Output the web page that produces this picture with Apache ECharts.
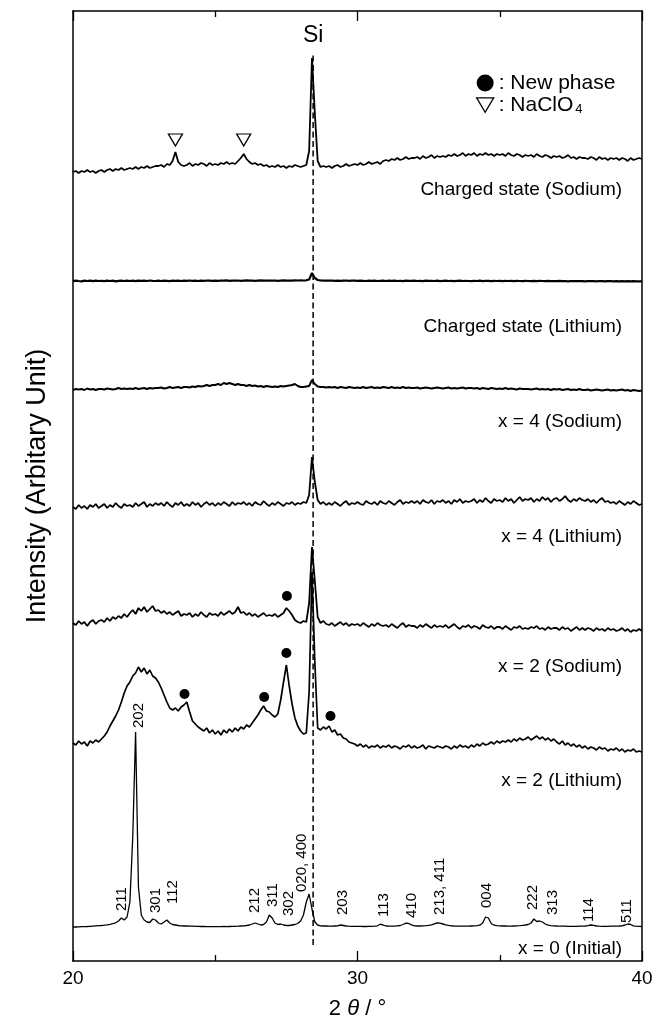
<!DOCTYPE html>
<html>
<head>
<meta charset="utf-8">
<script src="https://cdn.jsdelivr.net/npm/echarts@6/dist/echarts.min.js"></script>
<style>
  html, body { margin: 0; padding: 0; background: #fff; }
  #chart { width: 652px; height: 1020px; }
</style>
</head>
<body>
<div id="chart"></div>
<script>
// XRD patterns, 2θ scan from 20° to 40° in 0.1° steps
const scanStart = 20, scanStep = 0.1, scanPoints = 201;

// Intensities (arbitrary units) above each pattern's own baseline
const chargedNa = [
  3,4,2,4,3,5,3,4,2,4,
  5,3,5,6,4,6,5,7,5,6,
  7,6,8,6,8,7,9,7,8,9,
  9,10,8,11,10,14,23,13,10,9,
  10,12,9,11,10,12,11,9,12,10,
  11,10,12,11,13,11,12,11,14,17,
  21,16,13,11,12,10,11,9,10,8,
  9,8,10,8,9,7,9,8,10,9,
  8,9,10,24,117,62,14,8,9,8,
  9,7,9,10,8,9,11,9,10,11,
  10,12,10,11,13,11,12,13,11,14,
  15,14,16,15,17,15,16,18,16,17,
  17,18,16,19,17,18,20,17,19,18,
  19,18,20,19,21,19,20,22,19,21,
  20,22,19,21,20,22,20,21,19,21,
  20,21,19,22,20,19,21,20,18,20,
  19,20,18,21,19,18,20,19,17,19,
  18,19,17,18,20,17,18,16,18,17,
  17,16,18,17,15,18,16,17,15,17,
  16,17,15,17,16,14,17,15,16,17,
  16
];
const chargedLi = [
  0,0.4,0,-0.3,0.3,0,0.4,-0.2,0.3,0,
  0.2,-0.2,0.4,0,0.3,-0.3,0.2,0.4,0,0.3,
  0,0.3,-0.2,0.4,0.1,0.3,0,0.5,0.2,0,
  0.3,0,0.4,0.2,-0.2,0.3,0.1,0.4,0,0.3,
  0.2,0.5,0.1,0.3,0,0.4,0.2,0.5,0.3,0.1,
  0.4,0.2,0.5,0.3,0.6,0.2,0.4,0.3,0.5,0.2,
  0.4,0.6,0.3,0.5,0.2,0.4,0.6,0.3,0.5,0.4,
  0.3,0.5,0.2,0.4,0.6,0.3,0.5,0.4,0.6,0.5,
  0.6,0.5,0.7,1.5,8,3,1,0.6,0.4,0.5,
  0.3,0.5,0.2,0.4,0.1,0.3,0.5,0.2,0.4,0.3,
  0.1,0.4,0.2,0,0.3,0.1,0.4,0,0.2,0.3,
  0,0.3,0.1,0.4,0,0.2,-0.1,0.3,0.1,0.2,
  0.3,0,0.2,-0.1,0.3,0.1,0.2,0,0.3,-0.1,
  0.1,0.3,0,0.2,-0.2,0.1,0.3,0,0.2,0,
  -0.1,0.2,0,0.3,-0.1,0.1,0.2,-0.2,0.1,0,
  0.2,-0.1,0.1,0,0.2,-0.2,0.1,0,-0.1,0.2,
  0,-0.2,0.1,-0.1,0.2,0,-0.2,0.1,-0.1,0,
  -0.2,0.1,-0.1,0,-0.3,0,-0.1,-0.2,0,-0.1,
  -0.3,0,-0.2,-0.1,-0.3,0,-0.2,-0.4,-0.1,-0.2,
  -0.3,-0.1,-0.4,-0.2,-0.3,-0.1,-0.4,-0.2,-0.3,-0.4,
  -0.3
];
const x4Na = [
  0,1,0.5,1,0,1.5,0.5,1,0,1,
  1,0.5,1.5,1,0.5,1,2,1,1.5,1,
  1.5,1,2,1,1.5,2,1,2,1.5,2,
  2,2.5,1.5,2,3,2,2.5,3,2,3,
  3,2.5,3.5,3,4,3.5,4,5,4,5,
  5,6,5,7,6,7,6,5,6,5,
  5,4,5,4,4.5,3.5,4,3,4,3.5,
  3,3.5,3,4,3.5,4,4.5,5,6,4,
  3,3,3.5,4,10,6,3.5,3,3,2.5,
  3,2.5,3,2,3,2.5,2,3,2.5,2,
  2.5,2,3,2,2.5,3,2,2.5,2,3,
  2.5,2,3,2,2.5,2,3,2,2.5,2,
  2,2.5,1.5,2,2.5,2,1.5,2,2.5,2,
  1.5,2,2.5,1.5,2,1.5,2,2.5,1.5,2,
  2,1.5,2,1,2,1.5,1,2,1.5,1,
  1.5,1,2,1,1.5,1,0.5,1.5,1,1,
  1,0.5,1,1.5,0.5,1,0.5,1,0,1,
  0.5,1,0,0.5,1,0,0.5,0,1,0,
  0,0.5,-0.5,0,0.5,0,-0.5,0,0.5,-0.5,
  0,-0.5,0,0.5,-0.5,0,-1,0,-0.5,-1,
  -0.5
];
const x4Li = [
  1,-1,3,0,2,-1,3,1,4,0,
  2,4,0,3,1,5,2,0,4,2,
  3,1,5,2,4,6,1,4,2,5,
  3,5,2,6,3,1,5,3,6,2,
  4,2,6,3,5,1,4,6,3,5,
  2,5,3,6,4,2,6,3,5,4,
  6,3,5,2,6,4,3,7,4,2,
  5,3,6,4,2,5,4,6,3,5,
  4,6,5,13,51,26,8,4,6,3,
  5,3,6,4,2,5,7,3,5,4,
  6,4,3,7,5,4,6,3,7,5,
  4,7,5,3,6,8,4,6,5,7,
  5,7,4,8,6,5,8,4,7,6,
  8,5,7,4,8,6,9,5,7,6,
  7,9,5,8,6,10,7,5,9,7,
  8,6,10,7,9,5,8,11,7,9,
  8,10,6,9,7,11,8,10,6,9,
  10,7,9,12,8,6,9,7,10,8,
  7,9,6,8,5,8,10,6,7,5,
  6,4,7,5,3,6,4,7,5,3,
  4
];
const x2Na = [
  8,6,10,7,9,5,9,11,7,10,
  11,9,13,10,14,12,15,13,17,14,
  18,21,17,23,20,24,19,22,25,20,
  21,18,20,17,19,16,18,20,15,17,
  16,18,14,17,15,19,16,14,18,16,
  17,15,19,16,18,20,17,19,24,18,
  19,16,18,15,17,14,16,18,15,16,
  15,17,14,16,18,23,20,16,11,9,
  8,10,9,28,84,50,14,8,10,7,
  6,8,5,7,9,6,8,5,7,6,
  7,5,8,6,4,7,5,8,6,5,
  6,4,7,5,3,6,8,4,6,5,
  5,3,6,4,7,5,3,6,4,5,
  4,6,3,5,7,4,2,5,4,6,
  3,5,4,2,6,4,3,5,2,4,
  4,2,5,3,1,4,3,5,2,3,
  2,4,3,5,2,3,1,4,2,3,
  3,1,4,2,3,0,2,4,1,3,
  1,3,2,0,3,1,2,0,3,1,
  2,0,1,3,0,2,-1,1,0,2,
  0
];
const x2Li = [
  9,7,11,8,10,6,11,9,12,10,
  13,16,20,26,31,36,42,50,59,66,
  70,76,79,85,80,84,78,82,76,74,
  70,64,57,50,44,42,44,41,45,47,
  50,40,31,28,25,23,21,24,19,22,
  18,21,17,22,19,23,20,24,21,25,
  23,27,25,29,33,37,42,46,41,40,
  37,35,38,52,70,87,66,48,34,26,
  21,18,19,60,180,90,24,22,25,23,
  26,20,22,17,18,14,13,10,9,8,
  6,8,5,7,4,6,5,7,4,6,
  5,7,4,6,5,3,6,5,7,4,
  6,4,5,7,3,6,5,4,6,5,
  4,6,5,3,6,4,7,5,6,4,
  7,5,8,6,9,7,8,10,8,11,
  9,11,10,12,10,13,11,14,12,13,
  15,12,14,16,13,15,12,14,11,13,
  10,8,11,7,9,6,8,5,7,4,
  6,3,5,4,2,5,3,4,1,3,
  2,4,1,3,0,2,1,3,0,1,
  0
];
const x0 = [
  0,0,0.2,0.3,0.4,0.5,0.7,0.9,1.1,1.3,
  1.5,1.8,2.2,2.7,3.3,4.2,6,9,7,10,
  25,90,195,40,12,7,5,4.5,8,7,
  4,3,5,7,4,2.5,2,1.5,1.2,1,
  1,0.8,0.8,0.6,0.6,0.5,0.5,0.4,0.4,0.4,
  0.4,0.3,0.4,0.5,0.4,0.5,0.6,0.7,0.8,1,
  1.2,1.5,2,3,4,3,2,2.5,5,12,
  9,4,2.5,3,2,1.5,1.5,2,2.5,3.5,
  6,12,25,33,18,5,2,1.2,1,1,
  0.8,0.8,1,1.2,2,1.5,1,0.8,0.7,0.7,
  0.6,0.6,0.5,0.5,0.6,0.6,0.8,1.2,2.8,2,
  1,0.8,0.8,0.9,1.2,1.5,2.5,3.8,3.5,2.2,
  1.2,1,1,1.1,1.3,1.6,2.2,3.2,4,3.8,
  3,2.2,1.6,1.2,1,0.9,0.8,0.8,0.8,0.9,
  1,1.1,1.3,1.8,4,10,9,3.5,1.8,1.3,
  1.2,1,1,0.9,0.9,1,1.1,1.3,1.6,2,
  2.5,4,8,5.5,6,5,3,1.8,1.4,1.2,
  1,0.9,0.8,0.8,0.7,0.7,0.7,0.7,0.8,0.9,
  1,1.4,2,1.6,1,0.8,0.7,0.7,0.7,0.8,
  0.8,0.9,1,1.2,2,3,2.5,1.2,0.8,0.6,
  0.5
];

// Pattern names, top to bottom, and the vertical offset each one is stacked at
const patternNames = ['Charged state (Sodium)', 'Charged state (Lithium)', 'x = 4 (Sodium)',
  'x = 4 (Lithium)', 'x = 2 (Sodium)', 'x = 2 (Lithium)', 'x = 0 (Initial)'];
const patternOffsets = [786, 680, 571, 453, 330, 209, 34];
const patternLabelLevels = [771, 634, 539, 424, 294, 180, 12];

// Reflection indices of the initial phase
const hklLabels = ['211', '202', '301', '112', '212', '311', '302', '020, 400', '203',
  '113', '410', '213, 411', '004', '222', '313', '114', '511'];
const hklTheta = [21.70, 22.33, 22.92, 23.52, 26.38, 27.04, 27.58, 28.04, 29.50,
  30.94, 31.90, 32.90, 34.55, 36.15, 36.88, 38.14, 39.47];
const hklLevels = [50, 233, 48, 57, 48, 54, 45, 69, 46, 44, 43, 46, 53, 51, 46, 39, 38];

// Peak markers
const newPhaseTheta = [27.52, 23.92, 26.72, 27.50, 29.05];
const newPhaseLevels = [365, 267, 264, 308, 245];
const naclo4Theta = [23.6, 26.0];
const naclo4Levels = [821, 821];

// Si (111) reference line
const siTheta = 28.44;
const siLineLevels = [16, 909];
const siLabelLevel = 925;

const patterns = [chargedNa, chargedLi, x4Na, x4Li, x2Na, x2Li, x0];
const lineWidths = [1.8, 2.2, 1.9, 1.8, 1.8, 1.7, 1.3];
const twoTheta = Array.from({ length: scanPoints }, (_, i) => Math.round((scanStart + i * scanStep) * 10) / 10);

const FONT = '"Liberation Sans", Arial, Helvetica, sans-serif';
const triPath = 'path://M0,0L20,0L10,17Z';

const series = patterns.map((h, k) => ({
  type: 'line',
  name: patternNames[k],
  data: twoTheta.map((t, i) => [t, patternOffsets[k] + h[i]]),
  symbol: 'none',
  lineStyle: { color: '#000', width: lineWidths[k], opacity: 1 },
  z: 3,
  silent: true
}));

series.push({
  type: 'line',
  data: siLineLevels.map(v => [siTheta, v]),
  symbol: 'none',
  lineStyle: { color: '#000', width: 1.5, type: [6, 3.5] },
  z: 2,
  silent: true
});

series.push({
  type: 'scatter',
  name: 'New phase',
  data: newPhaseTheta.map((t, i) => [t, newPhaseLevels[i]]),
  symbol: 'circle',
  symbolSize: 10,
  itemStyle: { color: '#000', opacity: 1 },
  z: 4,
  silent: true
});

series.push({
  type: 'scatter',
  name: 'NaClO4',
  data: naclo4Theta.map((t, i) => [t, naclo4Levels[i]]),
  symbol: triPath,
  symbolSize: [14, 12],
  itemStyle: { color: '#fff', borderColor: '#000', borderWidth: 1.3, opacity: 1 },
  z: 4,
  silent: true
});

const textLabel = extra => Object.assign({
  show: true, position: 'inside', fontFamily: FONT, color: '#000', opacity: 1,
  textBorderWidth: 0
}, extra);

// hkl indices, rotated, reading upward from the given level
series.push({
  type: 'scatter',
  data: hklTheta.map((t, i) => [t, hklLevels[i], hklLabels[i]]),
  symbolSize: 0,
  itemStyle: { opacity: 1 },
  label: textLabel({ rotate: 90, align: 'left', verticalAlign: 'middle', fontSize: 15, formatter: p => p.data[2] }),
  z: 5,
  silent: true
});

// Pattern names, right aligned
series.push({
  type: 'scatter',
  data: patternNames.map((n, i) => [39.30, patternLabelLevels[i], n]),
  symbolSize: 0,
  itemStyle: { opacity: 1 },
  label: textLabel({ align: 'right', verticalAlign: 'middle', fontSize: 19, formatter: p => p.data[2] }),
  z: 5,
  silent: true
});

series.push({
  type: 'scatter',
  data: [[siTheta, siLabelLevel]],
  symbolSize: 0,
  itemStyle: { opacity: 1 },
  label: textLabel({ align: 'center', verticalAlign: 'middle', fontSize: 23, formatter: 'Si' }),
  z: 5,
  silent: true
});

const tickAxis = (pos, showLabel) => ({
  type: 'value',
  position: pos,
  min: 20, max: 40, interval: 10,
  axisLine: { show: true, onZero: false, lineStyle: { color: '#000', width: 1.5 } },
  axisTick: { show: true, inside: true, length: 10, lineStyle: { color: '#000', width: 1.3 } },
  minorTick: { show: true, splitNumber: 2, length: 6, lineStyle: { color: '#000', width: 1.3 } },
  splitLine: { show: false },
  axisLabel: { show: showLabel, fontFamily: FONT, fontSize: 19, color: '#000', margin: 8 }
});

const xBottom = tickAxis('bottom', true);
xBottom.name = '{n|2 }{i|θ}{n| / °}';
xBottom.nameLocation = 'middle';
xBottom.nameGap = 37;
xBottom.nameTextStyle = {
  rich: {
    n: { fontFamily: FONT, fontSize: 22, color: '#000' },
    i: { fontFamily: FONT, fontSize: 22, fontStyle: 'italic', color: '#000' }
  }
};

const chart = echarts.init(document.getElementById('chart'), null, { renderer: 'canvas' });
chart.setOption({
  animation: false,
  backgroundColor: '#fff',
  grid: { left: 73, right: 10, top: 11, bottom: 59, containLabel: false, outerBoundsMode: 'none' },
  legend: {
    orient: 'vertical',
    left: 471, top: 67,
    itemWidth: 17, itemHeight: 17, itemGap: 0,
    selectedMode: false,
    data: [
      { name: 'New phase', icon: 'circle', itemStyle: { color: '#000' } },
      { name: 'NaClO4', icon: triPath, itemStyle: { color: '#fff', borderColor: '#000', borderWidth: 1.3 } }
    ],
    formatter: name => name === 'NaClO4' ? ': NaClO{s|4}' : ': ' + name,
    textStyle: {
      fontFamily: FONT, fontSize: 21, color: '#000', lineHeight: 22,
      rich: {
        s: { fontFamily: FONT, fontSize: 13, color: '#000', lineHeight: 10, verticalAlign: 'bottom', padding: [0, 0, 0, 2] }
      }
    }
  },
  xAxis: [xBottom, tickAxis('top', false)],
  yAxis: [
    {
      type: 'value', min: 0, max: 950, position: 'left',
      axisLine: { show: true, lineStyle: { color: '#000', width: 1.5 } },
      axisTick: { show: false }, axisLabel: { show: false }, splitLine: { show: false },
      name: 'Intensity (Arbitary Unit)', nameLocation: 'middle', nameGap: 22,
      nameTextStyle: { fontFamily: FONT, fontSize: 27, color: '#000' }
    },
    {
      type: 'value', min: 0, max: 950, position: 'right',
      axisLine: { show: true, lineStyle: { color: '#000', width: 1.5 } },
      axisTick: { show: false }, axisLabel: { show: false }, splitLine: { show: false }
    }
  ],
  series: series
});
</script>
</body>
</html>
